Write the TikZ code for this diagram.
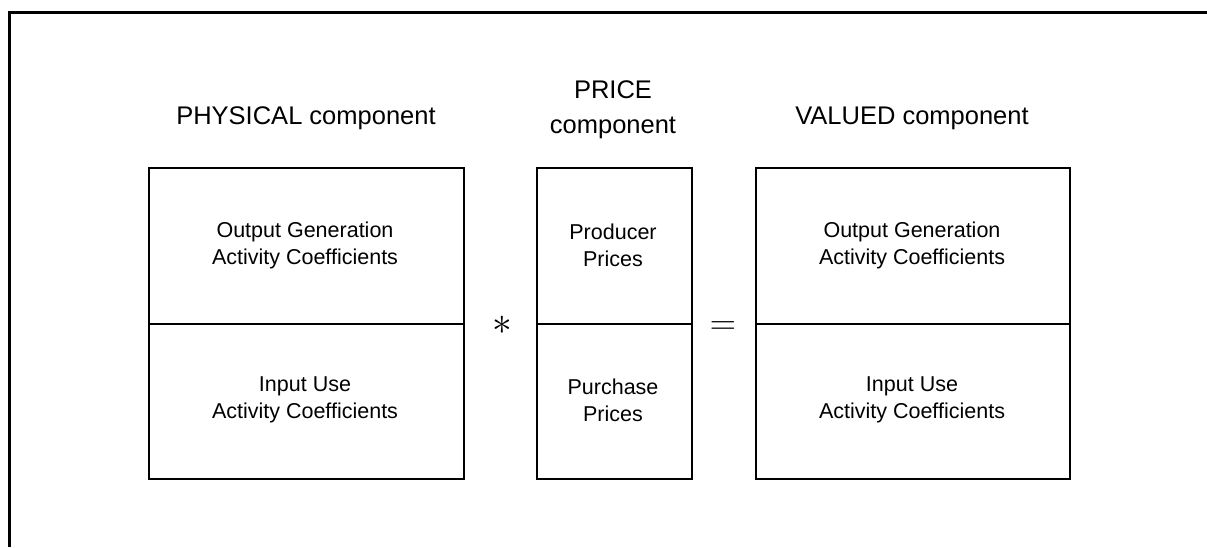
\documentclass[tikz,border=0pt]{standalone}
\usepackage{fontspec}
\setmainfont{Liberation Sans}
\begin{document}
\begin{tikzpicture}[x=1pt,y=-1pt,
  frame/.style={line width=3pt},
  boxline/.style={line width=1.8pt},
  title/.style={font=\fontsize{25.5}{35}\selectfont, align=center, inner sep=0pt},
  celltext/.style={font=\fontsize{21.5}{27}\selectfont, align=center, inner sep=0pt},
  opsym/.style={font=\fontsize{20}{24}\selectfont, inner sep=0pt}]
\useasboundingbox (0,0) rectangle (1207,547);
% outer frame (top and left only)
\coordinate (fa) at (1207,12);
\coordinate (fb) at (9,12);
\coordinate (fc) at (9,547);
\draw[frame] (fa) -- (fb) -- (fc);
% physical component
\node[boxline, draw, minimum width=315pt, minimum height=156pt, inner sep=0pt, anchor=north west] (pu) at (148,167) {};
\node[boxline, draw, minimum width=315pt, minimum height=155pt, inner sep=0pt, anchor=north west] (pl) at (148,323) {};
% price component
\node[boxline, draw, minimum width=155pt, minimum height=156pt, inner sep=0pt, anchor=north west] (mu) at (536,167) {};
\node[boxline, draw, minimum width=155pt, minimum height=155pt, inner sep=0pt, anchor=north west] (ml) at (536,323) {};
% valued component
\node[boxline, draw, minimum width=314pt, minimum height=156pt, inner sep=0pt, anchor=north west] (vu) at (755,167) {};
\node[boxline, draw, minimum width=314pt, minimum height=155pt, inner sep=0pt, anchor=north west] (vl) at (755,323) {};
% titles
\node[title] (tp) at (306,118) {PHYSICAL component};
\node[title] (tm) at (613,110) {PRICE\\component};
\node[title] (tv) at (912,118) {VALUED component};
% cell texts
\node[celltext] (t1) at (305,245) {Output Generation\\Activity Coefficients};
\node[celltext] (t2) at (305,400) {Input Use\\Activity Coefficients};
\node[celltext] (t3) at (613,245) {Producer\\Prices};
\node[celltext] (t4) at (613,400) {Purchase\\Prices};
\node[celltext] (t5) at (912,245) {Output Generation\\Activity Coefficients};
\node[celltext] (t6) at (912,400) {Input Use\\Activity Coefficients};
% operators
\node[opsym] (op1) at (502,325) {\scalebox{1.9}{$\ast$}};
\node[opsym] (op2) at (723,328) {\scalebox{1.75}{$=$}};
\end{tikzpicture}
\end{document}
